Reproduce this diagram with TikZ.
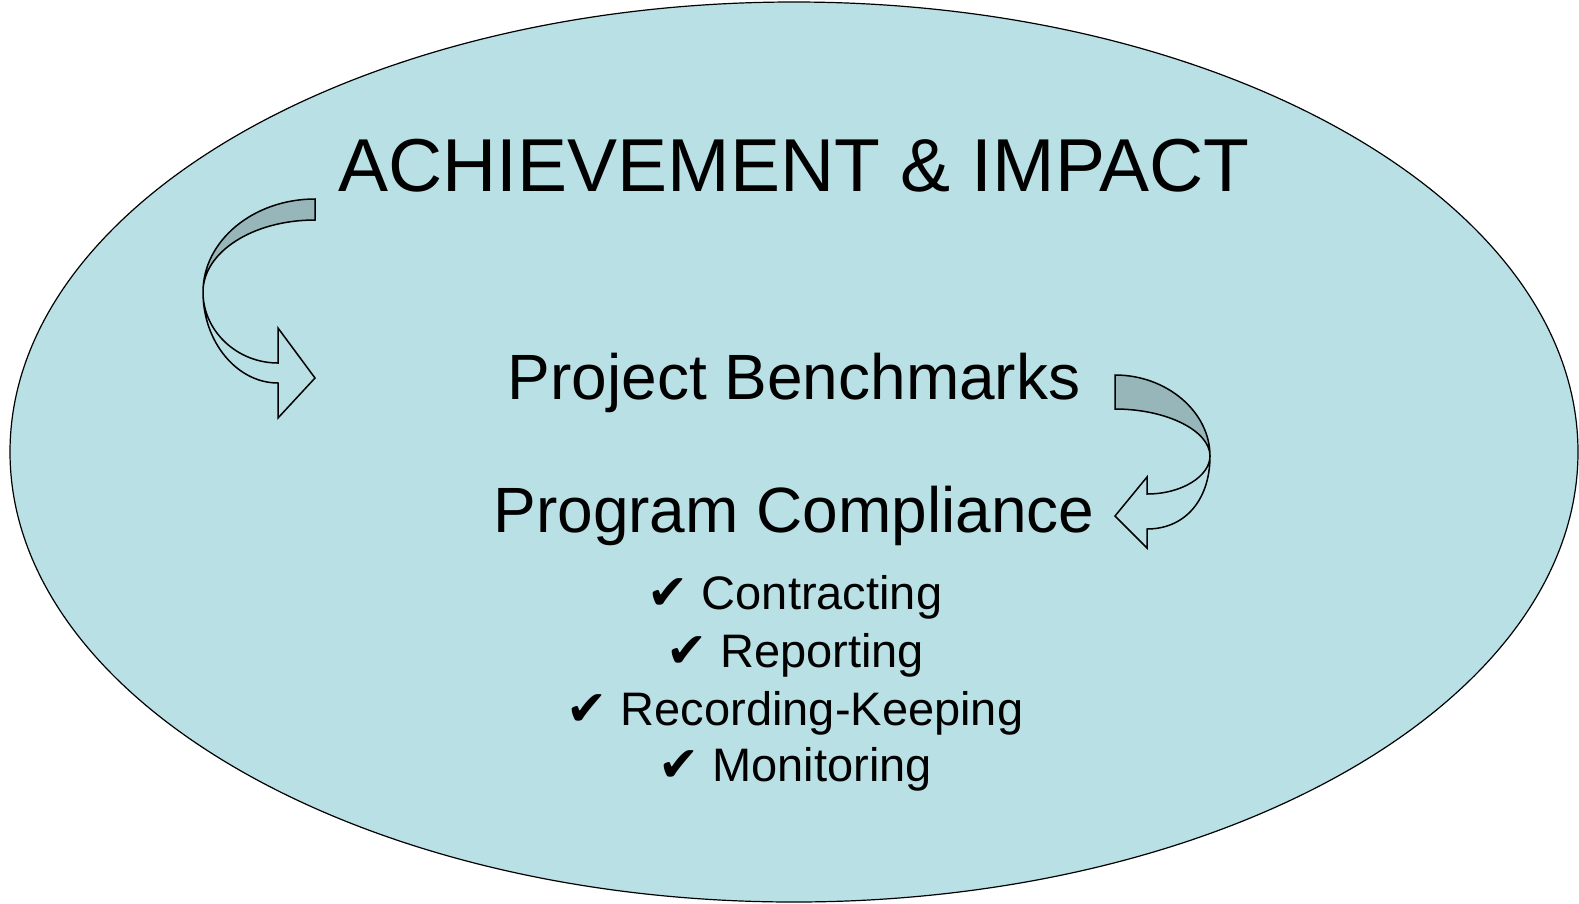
\documentclass[tikz,border=0pt]{standalone}
\usepackage{fontspec}
\setmainfont{Liberation Sans}
\newfontfamily\symfont{DejaVu Sans}
\definecolor{bgfill}{HTML}{B9E0E4}
\definecolor{backface}{HTML}{97B6BA}
\newcommand{\chkmark}{{\symfont\fontsize{49}{52}\selectfont ✔}}
\begin{document}
\begin{tikzpicture}[x=1pt,y=-1pt,
  outline/.style={draw=black,line width=1.5pt,line join=miter},
  bigtxt/.style={anchor=base,inner sep=0pt,font=\fontsize{75}{80}\selectfont},
  midtxt/.style={anchor=base,inner sep=0pt,font=\fontsize{64}{70}\selectfont},
  itemtxt/.style={anchor=base,inner sep=0pt,font=\fontsize{47}{52}\selectfont}]
\useasboundingbox (0,0) rectangle (1579,903);
% ellipse
\draw[draw=black,line width=1.2pt,fill=bgfill] (794,452) ellipse [x radius=784, y radius=450];
% texts
\node[bigtxt] (title) at (794,191) {ACHIEVEMENT \& IMPACT};
\node[midtxt] (bench) at (794,399) {Project Benchmarks};
\node[midtxt] (comp) at (794,532) {Program Compliance};
\node[itemtxt] (i1) at (795,609) {\chkmark\ Contracting};
\node[itemtxt] (i2) at (795,667) {\chkmark\ Reporting};
\node[itemtxt] (i3) at (795,725) {\chkmark\ Recording-Keeping};
\node[itemtxt] (i4) at (795,781) {\chkmark\ Monitoring};
% left curved arrow: back face
\draw[outline,fill=backface] (315,199) -- (315,220)
  .. controls (253,220) and (203,252) .. (203,292)
  .. controls (203,241) and (253,199) .. (315,199) -- cycle;
% left curved arrow: front face
\draw[outline,fill=bgfill] (203,292)
  .. controls (203,331) and (237,363) .. (278,363)
  -- (278,328) -- (315,378) -- (278,418) -- (278,383)
  .. controls (237,383) and (203,342) .. (203,292) -- cycle;
% right curved arrow: back face
\draw[outline,fill=backface] (1115,375)
  .. controls (1167,375) and (1210,412) .. (1210,456)
  .. controls (1210,431) and (1167,409) .. (1115,409) -- cycle;
% right curved arrow: front face
\draw[outline,fill=bgfill] (1210,456)
  .. controls (1210,476) and (1182,494) .. (1147,494)
  -- (1147,477) -- (1115,516) -- (1147,548) -- (1147,529)
  .. controls (1185,529) and (1210,500) .. (1210,456) -- cycle;
\end{tikzpicture}
\end{document}
